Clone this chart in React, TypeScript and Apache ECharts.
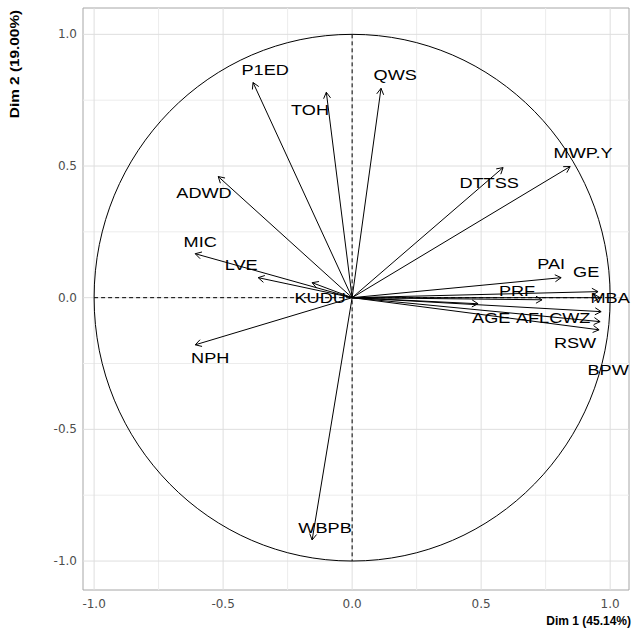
import React, { useEffect, useRef } from "react";
import * as echarts from "echarts";

const variables = ["P1ED", "TOH", "QWS", "MWP.Y", "DTTSS", "ADWD", "MIC", "LVE", "KUDU", "NPH", "WBPB", "PAI", "PRF", "GE", "MBA", "AGE", "AFLCWZ", "RSW", "BPW"];
const dim1 = [-0.384, -0.10, 0.112, 0.845, 0.585, -0.519, -0.608, -0.364, -0.155, -0.608, -0.155, 0.81, 0.736, 0.953, 0.961, 0.488, 0.965, 0.961, 0.957];
const dim2 = [0.817, 0.78, 0.795, 0.498, 0.494, 0.46, 0.167, 0.076, 0.057, -0.179, -0.92, 0.076, -0.008, 0.023, 0.0, -0.023, -0.053, -0.091, -0.122];
// label anchors (repelled positions) in data units
const labelDim1 = [-0.337, -0.163, 0.167, 0.895, 0.531, -0.574, -0.589, -0.43, -0.124, -0.55, -0.105, 0.771, 0.639, 0.907, 1.0, 0.539, 0.779, 0.864, 0.992];
const labelDim2 = [0.865, 0.713, 0.846, 0.551, 0.437, 0.399, 0.213, 0.125, 0.0, -0.228, -0.875, 0.129, 0.027, 0.099, 0.0, -0.076, -0.076, -0.171, -0.274];

const tickValues = [-1, -0.5, 0, 0.5, 1];
const minorValues = [-0.75, -0.25, 0.25, 0.75];
const xTitle = "Dim 1 (45.14%)";
const yTitle = "Dim 2 (19.00%)";

export default function App() {
  const ref = useRef<HTMLDivElement>(null);
  useEffect(() => {
    if (!ref.current) return;
    const chart = echarts.init(ref.current, null, { renderer: "svg" });
    const font = "'Liberation Sans', Arial, sans-serif";
    const option: any = {
      animation: false,
      backgroundColor: "#ffffff",
      grid: {
        left: 83, right: 4, top: 8, bottom: 42,
        show: true, borderColor: "#a6a6a6", borderWidth: 1,
        containLabel: false,
      },
      xAxis: {
        type: "value", min: -1.043, max: 1.073,
        axisLine: { show: false }, axisTick: { show: false }, splitLine: { show: false },
        axisLabel: {
          customValues: tickValues, formatter: (v: number) => v.toFixed(1),
          color: "#4d4d4d", fontSize: 12, fontFamily: "'DejaVu Sans', sans-serif", margin: 8,
        },
      },
      yAxis: {
        type: "value", min: -1.11, max: 1.10,
        axisLine: { show: false }, axisTick: { show: false }, splitLine: { show: false },
        axisLabel: {
          customValues: tickValues, formatter: (v: number) => v.toFixed(1),
          color: "#4d4d4d", fontSize: 12, fontFamily: "'DejaVu Sans', sans-serif", margin: 6,
        },
      },
      graphic: [
        {
          type: "text", x: 15, y: 64, rotation: Math.PI / 2,
          style: { text: yTitle, fontSize: 12, fontWeight: "bold", fontFamily: font, fill: "#000", align: "center", verticalAlign: "middle" },
          scaleX: 1.28,
        },
        {
          type: "text", x: 631, y: 621,
          style: { text: xTitle, fontSize: 12, fontWeight: "bold", fontFamily: font, fill: "#000", align: "right", verticalAlign: "middle" },
        },
      ],
      series: [
        {
          type: "custom", silent: true, z: 1, data: [[0, 0]],
          renderItem: (params: any, api: any) => {
            const cs = params.coordSys;
            const children: any[] = [];
            const add = (vals: number[], color: string) => {
              vals.forEach((v) => {
                const px = api.coord([v, 0])[0];
                const py = api.coord([0, v])[1];
                children.push({ type: "line", shape: { x1: px, y1: cs.y, x2: px, y2: cs.y + cs.height }, style: { stroke: color, lineWidth: 1 } });
                children.push({ type: "line", shape: { x1: cs.x, y1: py, x2: cs.x + cs.width, y2: py }, style: { stroke: color, lineWidth: 1 } });
              });
            };
            add(minorValues, "#ececec");
            add(tickValues, "#dedede");
            return { type: "group", children };
          },
        },
        {
          type: "custom", silent: true, z: 2, data: [[0, 0]],
          renderItem: (params: any, api: any) => {
            const o = api.coord([0, 0]);
            const l = api.coord([-1, 0]);
            const r = api.coord([1, 0]);
            const t = api.coord([0, 1]);
            const b = api.coord([0, -1]);
            const rx = r[0] - o[0];
            const ry = o[1] - t[1];
            return {
              type: "group",
              children: [
                { type: "ellipse", shape: { cx: o[0], cy: o[1], rx, ry }, style: { fill: "none", stroke: "#000", lineWidth: 1 } },
                { type: "line", shape: { x1: l[0], y1: l[1], x2: r[0], y2: r[1] }, style: { stroke: "#000", lineWidth: 1, lineDash: [4, 3] } },
                { type: "line", shape: { x1: t[0], y1: t[1], x2: b[0], y2: b[1] }, style: { stroke: "#000", lineWidth: 1, lineDash: [4, 3] } },
              ],
            };
          },
        },
        {
          type: "custom", silent: true, z: 3,
          data: dim1.map((v, i) => [v, dim2[i]]),
          renderItem: (params: any, api: any) => {
            const o = api.coord([0, 0]);
            const t = api.coord([api.value(0), api.value(1)]);
            const ang = Math.atan2(t[1] - o[1], t[0] - o[0]);
            const L = 7, a = Math.PI / 6;
            const p1 = [t[0] - L * Math.cos(ang - a), t[1] - L * Math.sin(ang - a)];
            const p2 = [t[0] - L * Math.cos(ang + a), t[1] - L * Math.sin(ang + a)];
            return {
              type: "group",
              children: [
                { type: "line", shape: { x1: o[0], y1: o[1], x2: t[0], y2: t[1] }, style: { stroke: "#000", lineWidth: 1 } },
                { type: "polyline", shape: { points: [p1, t, p2] }, style: { stroke: "#000", fill: "none", lineWidth: 1 } },
              ],
            };
          },
        },
        {
          type: "custom", silent: true, z: 4,
          data: labelDim1.map((v, i) => [v, labelDim2[i], variables[i]]),
          renderItem: (params: any, api: any) => {
            const p = api.coord([api.value(0), api.value(1)]);
            return {
              type: "text", x: p[0], y: p[1], scaleX: 1.25,
              style: {
                text: variables[params.dataIndex], fontSize: 14.5, fontFamily: font,
                fill: "#000", align: "center", verticalAlign: "middle",
              },
            };
          },
        },
      ],
    };
    chart.setOption(option);
    return () => chart.dispose();
  }, []);
  return <div ref={ref} style={{ width: 633, height: 632, position: "absolute", left: 0, top: 0 }} />;
}
